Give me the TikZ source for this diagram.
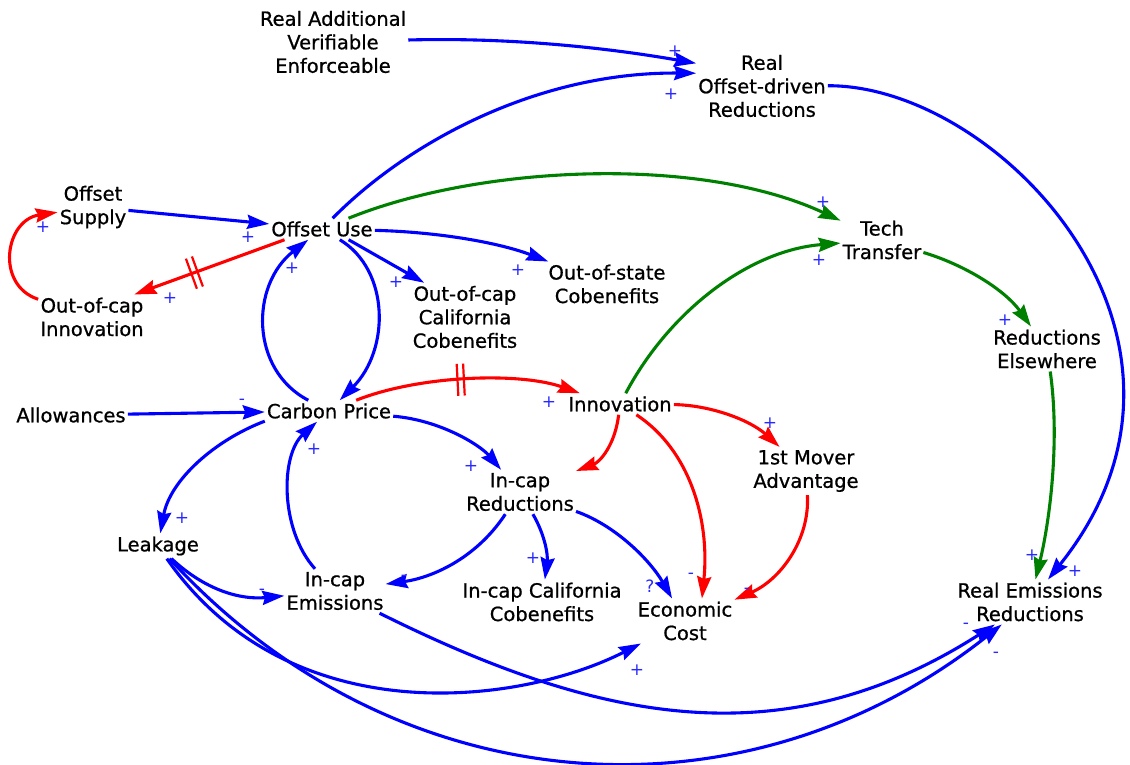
\documentclass[tikz,border=0pt]{standalone}
\usepackage{fontspec}
\setmainfont{DejaVu Sans}
\newfontfamily\varfont{DejaVu Sans}[FakeBold=0.8]
\usetikzlibrary{arrows.meta,decorations.markings}
\definecolor{cldblue}{RGB}{0,0,255}
\definecolor{cldred}{RGB}{255,0,0}
\definecolor{cldgreen}{RGB}{0,128,0}
\definecolor{signblue}{RGB}{40,40,255}
\tikzset{
  var/.style={align=center, inner xsep=2pt, inner ysep=3pt,
    font=\varfont\fontsize{19.5}{23.5}\selectfont},
  sgn/.style={text=signblue, font=\fontsize{17}{17}\selectfont,
    inner sep=0pt, text height=11pt, text depth=0pt},
  link/.style={line width=3.1pt, -{Stealth[length=22pt,width=14pt,inset=2.5pt]}},
  bluelink/.style={link, draw=cldblue},
  redlink/.style={link, draw=cldred},
  greenlink/.style={link, draw=cldgreen},
  delaymark/.style={postaction={decorate}, decoration={markings,
    mark=at position #1 with {\draw[-, draw=cldred, line width=2.2pt]
      (-3.2pt,-16pt) -- (-3.2pt,16pt) (3.2pt,-16pt) -- (3.2pt,16pt);}}}
}
\begin{document}
\begin{tikzpicture}[x=1pt,y=-1pt]
\useasboundingbox (0,0) rectangle (1130,765);

% variables
\node[var] (RAVE) at (333,42) {Real Additional\\Verifiable\\Enforceable};
\node[var] (RODR) at (762,86) {Real\\Offset-driven\\Reductions};
\node[var] (OS) at (93,207) {Offset\\Supply};
\node[var] (OU) at (322,229) {Offset Use};
\node[var] (OCI) at (92,317) {Out-of-cap\\Innovation};
\node[var] (OCCC) at (465,317) {Out-of-cap\\California\\Cobenefits};
\node[var] (OSC) at (607,284) {Out-of-state\\Cobenefits};
\node[var] (TT) at (882,240) {Tech\\Transfer};
\node[var] (RE) at (1047,349) {Reductions\\Elsewhere};
\node[var] (AL) at (71,415) {Allowances};
\node[var] (CP) at (329,411) {Carbon Price};
\node[var] (INN) at (620,404) {Innovation};
\node[var] (FMA) at (806,471) {1st Mover\\Advantage};
\node[var] (ICR) at (520,492) {In-cap\\Reductions};
\node[var] (LK) at (158,546) {Leakage};
\node[var] (ICE) at (335,591) {In-cap\\Emissions};
\node[var] (ICCC) at (542,602) {In-cap California\\Cobenefits};
\node[var] (EC) at (685,621) {Economic\\Cost};
\node[var] (RER) at (1030,602) {Real Emissions\\Reductions};

% offsets
\draw[bluelink] (RAVE) .. controls (520,37) and (620,50) .. (RODR.161);
\draw[bluelink] (OU) .. controls (410,140) and (540,72) .. (RODR.169);
\draw[bluelink] (RODR) .. controls (1000,85) and (1240,340) .. (RER);
\draw[bluelink] (OS) -- (OU);
\draw[redlink, delaymark=0.6] (OU.196) -- (OCI.28);
\draw[redlink] (OCI) .. controls (-5,285) and (5,220) .. (OS);
\draw[bluelink] (OU.-22) -- (OCCC.140);
\draw[bluelink] (OU) .. controls (440,232) and (500,243) .. (OSC);
\draw[greenlink] (OU) .. controls (480,165) and (700,155) .. (TT);
\draw[bluelink] (OU) .. controls (390,270) and (390,350) .. (CP);
\draw[bluelink] (CP) .. controls (250,370) and (250,285) .. (OU);

% carbon price
\draw[bluelink] (AL) -- (CP);
\draw[redlink, delaymark=0.47] (CP) .. controls (420,375) and (520,372) .. (INN.165);
\draw[bluelink] (CP) .. controls (440,420) and (480,445) .. (ICR);
\draw[bluelink] (CP.189) .. controls (215,440) and (170,480) .. (LK);
\draw[bluelink] (ICE) .. controls (280,530) and (280,455) .. (CP);

% innovation
\draw[greenlink] (INN) .. controls (670,310) and (750,250) .. (TT);
\draw[greenlink] (TT) .. controls (965,265) and (1005,290) .. (RE);
\draw[greenlink] (RE) .. controls (1060,440) and (1050,520) .. (RER);
\draw[redlink] (INN) .. controls (615,445) and (600,462) .. (ICR);
\draw[redlink] (INN) .. controls (690,450) and (710,520) .. (EC.53);
\draw[redlink] (INN) .. controls (710,405) and (750,420) .. (FMA);
\draw[redlink] (FMA) .. controls (810,540) and (780,580) .. (EC);

% in-cap reductions
\draw[bluelink] (ICR) .. controls (475,560) and (430,578) .. (ICE);
\draw[bluelink] (ICR) .. controls (545,535) and (548,555) .. (ICCC);
\draw[bluelink] (ICR) .. controls (615,525) and (650,560) .. (EC);

% leakage and emissions
\draw[bluelink] (LK) .. controls (290,735) and (520,705) .. (EC);
\draw[bluelink] (LK) .. controls (205,590) and (240,600) .. (ICE);
\draw[bluelink] (LK) .. controls (396,806) and (744,829) .. (RER);
\draw[bluelink] (ICE) .. controls (598,722) and (783,760) .. (RER);

% polarities
\node[sgn] (p1) at (675,51) {+};
\node[sgn] (p2) at (671,94) {+};
\node[sgn] (p3) at (248,237) {+};
\node[sgn] (p4) at (170,298) {+};
\node[sgn] (p5) at (43,227) {+};
\node[sgn] (p6) at (292,268) {+};
\node[sgn] (p7) at (396,282) {+};
\node[sgn] (p8) at (518,270) {+};
\node[sgn] (p9) at (823,202) {+};
\node[sgn] (p10) at (819,260) {+};
\node[sgn] (p11) at (1005,320) {+};
\node[sgn] (p12) at (1032,555) {+};
\node[sgn] (p13) at (1075,571) {+};
\node[sgn] (p14) at (242,399) {-};
\node[sgn] (p15) at (549,402) {+};
\node[sgn] (p16) at (471,466) {+};
\node[sgn] (p17) at (182,518) {+};
\node[sgn] (p18) at (314,449) {+};
\node[sgn] (p19) at (770,423) {+};
\node[sgn] (p20) at (691,573) {-};
\node[sgn] (p21) at (747,588) {-};
\node[sgn] (p22) at (404,575) {-};
\node[sgn] (p23) at (533,558) {+};
\node[sgn] (p24) at (650,587) {?};
\node[sgn] (p25) at (262,589) {-};
\node[sgn] (p26) at (637,670) {+};
\node[sgn] (p27) at (966,623) {-};
\node[sgn] (p28) at (996,652) {-};
\end{tikzpicture}
\end{document}
